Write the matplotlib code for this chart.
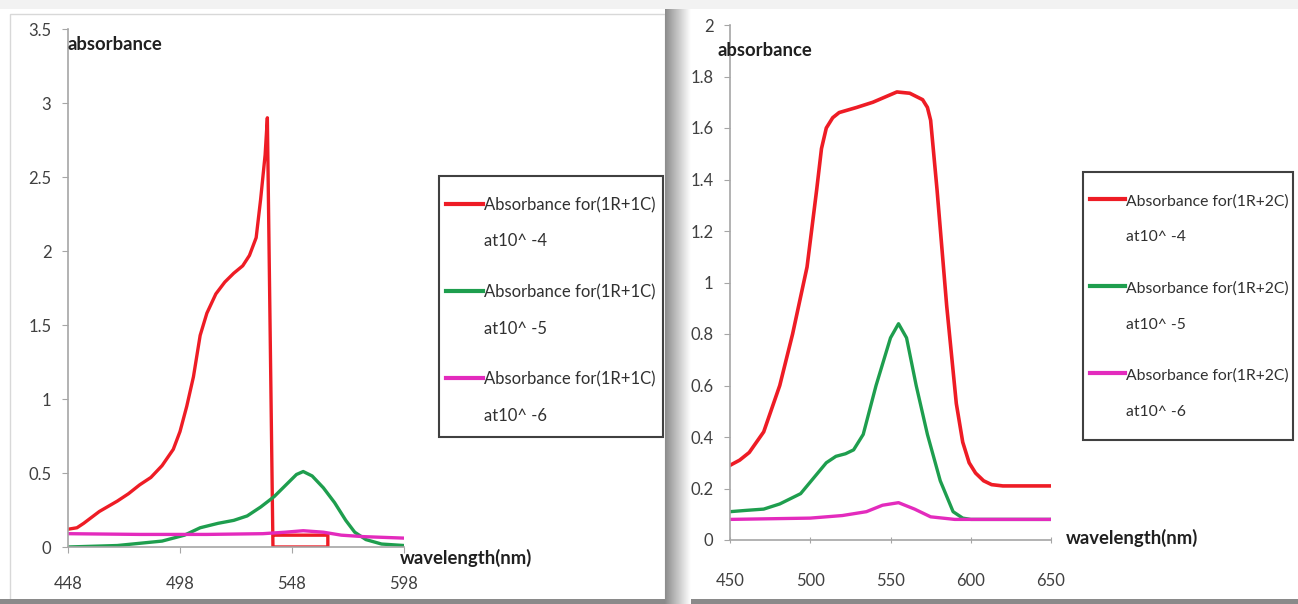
import numpy as np
import matplotlib
matplotlib.use("Agg")
import matplotlib.pyplot as plt
from matplotlib.patches import Rectangle

plt.rcParams['font.family'] = ['Lato', 'DejaVu Sans']

W, H = 1298, 604

# ---- left chart: (1R+1C) ----
l_red_x = [448, 452, 455, 462, 470, 475, 480, 485, 490, 495, 498, 501, 504, 507, 510, 514,
           518, 522, 526, 529, 532, 534, 536, 537, 539.5, 564, 564, 540]
l_red_y = [0.12, 0.13, 0.16, 0.24, 0.31, 0.36, 0.42, 0.47, 0.55, 0.66, 0.78, 0.95, 1.15,
           1.43, 1.58, 1.71, 1.79, 1.85, 1.90, 1.97, 2.09, 2.35, 2.65, 2.90, 0.0, 0.0,
           0.08, 0.08]
l_green_x = [448, 470, 490, 500, 507, 515, 522, 528, 534, 540, 546, 550, 553, 557,
             562, 567, 572, 576, 581, 588, 598]
l_green_y = [0.0, 0.01, 0.04, 0.08, 0.13, 0.16, 0.18, 0.21, 0.27, 0.34, 0.43, 0.49,
             0.51, 0.48, 0.40, 0.30, 0.18, 0.10, 0.05, 0.02, 0.01]
l_mag_x = [448, 480, 510, 535, 545, 553, 562, 570, 580, 598]
l_mag_y = [0.09, 0.085, 0.085, 0.09, 0.10, 0.11, 0.10, 0.08, 0.07, 0.06]
l_labels = ["Absorbance for(1R+1C)\nat10^ -4",
            "Absorbance for(1R+1C)\nat10^ -5",
            "Absorbance for(1R+1C)\nat10^ -6"]
l_xticks = [448, 498, 548, 598]
l_yticks = [0, 0.5, 1, 1.5, 2, 2.5, 3, 3.5]
l_yticklabels = ["0", "0.5", "1", "1.5", "2", "2.5", "3", "3.5"]

# ---- right chart: (1R+2C) ----
r_red_x = [450, 456, 462, 471, 481, 489, 498, 504, 507, 510, 514, 518, 529, 539, 554, 562,
           570, 573, 575, 579, 585, 591, 595, 599, 603, 608, 613, 620, 650]
r_red_y = [0.29, 0.31, 0.34, 0.42, 0.60, 0.80, 1.06, 1.36, 1.52, 1.60, 1.64, 1.66, 1.68,
           1.70, 1.74, 1.735, 1.71, 1.68, 1.63, 1.36, 0.91, 0.53, 0.38, 0.30, 0.26,
           0.23, 0.215, 0.21, 0.21]
r_green_x = [450, 460, 471, 481, 494, 502, 510, 516, 522, 527, 533, 541, 550, 555, 560,
             566, 573, 581, 589, 595, 600, 650]
r_green_y = [0.11, 0.115, 0.12, 0.14, 0.18, 0.24, 0.30, 0.325, 0.335, 0.35, 0.41, 0.60,
             0.785, 0.84, 0.785, 0.60, 0.41, 0.23, 0.11, 0.085, 0.08, 0.08]
r_mag_x = [450, 500, 520, 535, 545, 555, 565, 575, 590, 650]
r_mag_y = [0.08, 0.085, 0.095, 0.11, 0.135, 0.145, 0.12, 0.09, 0.08, 0.08]
r_labels = ["Absorbance for(1R+2C)\nat10^ -4",
            "Absorbance for(1R+2C)\nat10^ -5",
            "Absorbance for(1R+2C)\nat10^ -6"]
r_xticks = [450, 500, 550, 600, 650]
r_yticks = [0, 0.2, 0.4, 0.6, 0.8, 1, 1.2, 1.4, 1.6, 1.8, 2]
r_yticklabels = ["0", "0.2", "0.4", "0.6", "0.8", "1", "1.2", "1.4", "1.6", "1.8", "2"]

colors = ['#ee1c25', '#1e9e4e', '#e32bbd']


def px_box(x0, y_bottom, w, h):
    # pixel box (top-left origin) -> figure fraction
    return [x0 / W, (H - y_bottom) / H, w / W, h / H]


def style_axes(ax, xticks, yticks, yticklabels, xlim, ylim, xpad):
    ax.set_xlim(*xlim)
    ax.set_ylim(*ylim)
    ax.set_xticks(xticks)
    ax.set_xticklabels([str(t) for t in xticks])
    ax.set_yticks(yticks)
    ax.set_yticklabels(yticklabels)
    for s in ['top', 'right']:
        ax.spines[s].set_visible(False)
    for s in ['left', 'bottom']:
        ax.spines[s].set_color('#a6a6a6')
        ax.spines[s].set_linewidth(1.2)
    ax.tick_params(axis='y', length=4, color='#a6a6a6', labelsize=12,
                   labelcolor='#404040', pad=8)
    ax.tick_params(axis='x', length=4, color='#a6a6a6', labelsize=12,
                   labelcolor='#404040', pad=xpad, direction='inout')
    ax.set_facecolor('none')


def add_legend(ax, text_left, text_top, box, fontsize, linesp, labelsp):
    fig = ax.figure
    x0, y0, x1, y1 = box
    # legend frame, drawn under the axes
    fig.add_artist(Rectangle((x0 / W, 1 - y1 / H), (x1 - x0) / W, (y1 - y0) / H,
                             transform=fig.transFigure, facecolor='white',
                             edgecolor='#404040', linewidth=1.5, zorder=-1))
    leg = ax.legend(loc='upper left', bbox_to_anchor=(text_left / W, 1 - text_top / H),
                    bbox_transform=fig.transFigure, borderaxespad=0, borderpad=0,
                    fontsize=fontsize, frameon=False,
                    handlelength=2.2, handletextpad=0.1, labelspacing=labelsp)
    for t in leg.get_texts():
        t.set_linespacing(linesp)
        t.set_color('#303030')
    # put the handle next to the first line of each label
    for ln in leg.get_lines():
        ln.set_ydata(np.asarray(ln.get_ydata()) + 14.6)
        ln.set_linewidth(3)
    return leg


fig = plt.figure(figsize=(W / 100, H / 100), dpi=100)

# panel decorations (screenshot frame)
fig.add_artist(Rectangle((10 / W, 4 / H), 655 / W, 586 / H, transform=fig.transFigure,
                         facecolor='none', edgecolor='#d8d8d8', linewidth=1, zorder=-2))
fig.add_artist(Rectangle((0, 0), 1, 5 / H, transform=fig.transFigure,
                         facecolor='#8a8a8a', edgecolor='none', zorder=-2))
fig.add_artist(Rectangle((0, 1 - 9 / H), 1, 9 / H, transform=fig.transFigure,
                         facecolor='#f2f2f2', edgecolor='none', zorder=-2))
strip = fig.add_axes([665 / W, 0, 26 / W, 1 - 9 / H])
strip.imshow(np.linspace(0.55, 1.0, 50)[None, :], cmap='gray', vmin=0, vmax=1,
             aspect='auto')
strip.axis('off')

# left chart
ax1 = fig.add_axes(px_box(68, 547, 336, 518))
ax1.plot(l_red_x, l_red_y, color=colors[0], lw=2.4, label=l_labels[0])
ax1.plot(l_green_x, l_green_y, color=colors[1], lw=2.4, label=l_labels[1])
ax1.plot(l_mag_x, l_mag_y, color=colors[2], lw=2.4, label=l_labels[2])
style_axes(ax1, l_xticks, l_yticks, l_yticklabels, (448, 598), (0, 3.5), 17)
ax1.tick_params(axis='x', direction='out')
add_legend(ax1, 446, 197, (439, 176, 663, 437), 12, 2.55, 2.1)
fig.text(68 / W, 1 - 44 / H, "absorbance", fontsize=13.3, fontweight='bold',
         color='#202020', va='center', ha='left')
fig.text(400 / W, 1 - 558 / H, "wavelength(nm)", fontsize=13.3, fontweight='bold',
         color='#202020', va='center', ha='left')

# right chart
ax2 = fig.add_axes(px_box(730, 540, 321, 515))
ax2.plot(r_red_x, r_red_y, color=colors[0], lw=2.6, label=r_labels[0])
ax2.plot(r_green_x, r_green_y, color=colors[1], lw=2.4, label=r_labels[1])
ax2.plot(r_mag_x, r_mag_y, color=colors[2], lw=2.4, label=r_labels[2])
style_axes(ax2, r_xticks, r_yticks, r_yticklabels, (450, 650), (0, 2), 22)
add_legend(ax2, 1090, 194, (1083, 172, 1293, 440), 11.3, 3.0, 2.35)
fig.text(718 / W, 1 - 51 / H, "absorbance", fontsize=13.3, fontweight='bold',
         color='#202020', va='center', ha='left')
fig.text(1066 / W, 1 - 538 / H, "wavelength(nm)", fontsize=13.3, fontweight='bold',
         color='#202020', va='center', ha='left')

fig.savefig("out.png", dpi=100)
